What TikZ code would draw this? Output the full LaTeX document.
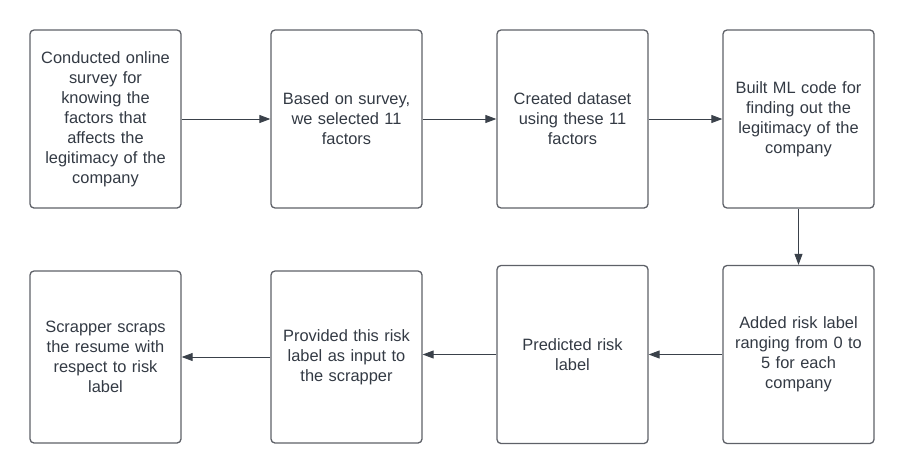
\documentclass[tikz,border=0pt]{standalone}
\usepackage{fontspec}
\setmainfont{Liberation Sans}
\usetikzlibrary{arrows.meta}
\definecolor{txt}{HTML}{333A44}
\definecolor{bord}{HTML}{5E6168}
\definecolor{arr}{HTML}{3A414A}
\tikzset{
  stepbox/.style={draw=bord, line width=1.3pt, rounded corners=4pt, fill=white,
    minimum width=151pt, text width=140pt, align=center, inner sep=0pt,
    font=\fontsize{16.4}{20}\selectfont, text=txt},
  flow/.style={draw=arr, line width=0.9pt, -{Triangle[length=11pt,width=8pt]}}
}
\begin{document}
\begin{tikzpicture}[x=1pt,y=-1pt]
\useasboundingbox (0,0) rectangle (904,474);
\node[stepbox, minimum height=178pt] (n1) at (105.5,119) {Conducted online\\survey for\\knowing the\\factors that\\affects the\\legitimacy of the\\company};
\node[stepbox, minimum height=178pt] (n2) at (346.5,119) {Based on survey,\\we selected 11\\factors};
\node[stepbox, minimum height=178pt] (n3) at (572.5,119) {Created dataset\\using these 11\\factors};
\node[stepbox, minimum height=178pt] (n4) at (798.5,119) {Built ML code for\\finding out the\\legitimacy of the\\company};
\node[stepbox, minimum height=178pt] (n5) at (798.5,354.5) {Added risk label\\ranging from 0 to\\5 for each\\company};
\node[stepbox, minimum height=178pt] (n6) at (572.5,354.5) {Predicted risk\\label};
\node[stepbox, minimum height=172pt] (n7) at (346.5,357) {Provided this risk\\label as input to\\the scrapper};
\node[stepbox, minimum height=172pt] (n8) at (105.5,357) {Scrapper scraps\\the resume with\\respect to risk\\label};
\draw[flow] (n1) -- (n2);
\draw[flow] (n2) -- (n3);
\draw[flow] (n3) -- (n4);
\draw[flow] (n4) -- (n5);
\draw[flow] (n5) -- (n6);
\draw[flow] (n6.west) -- (n7.east |- n6.west);
\draw[flow] (n7) -- (n8);
\end{tikzpicture}
\end{document}
